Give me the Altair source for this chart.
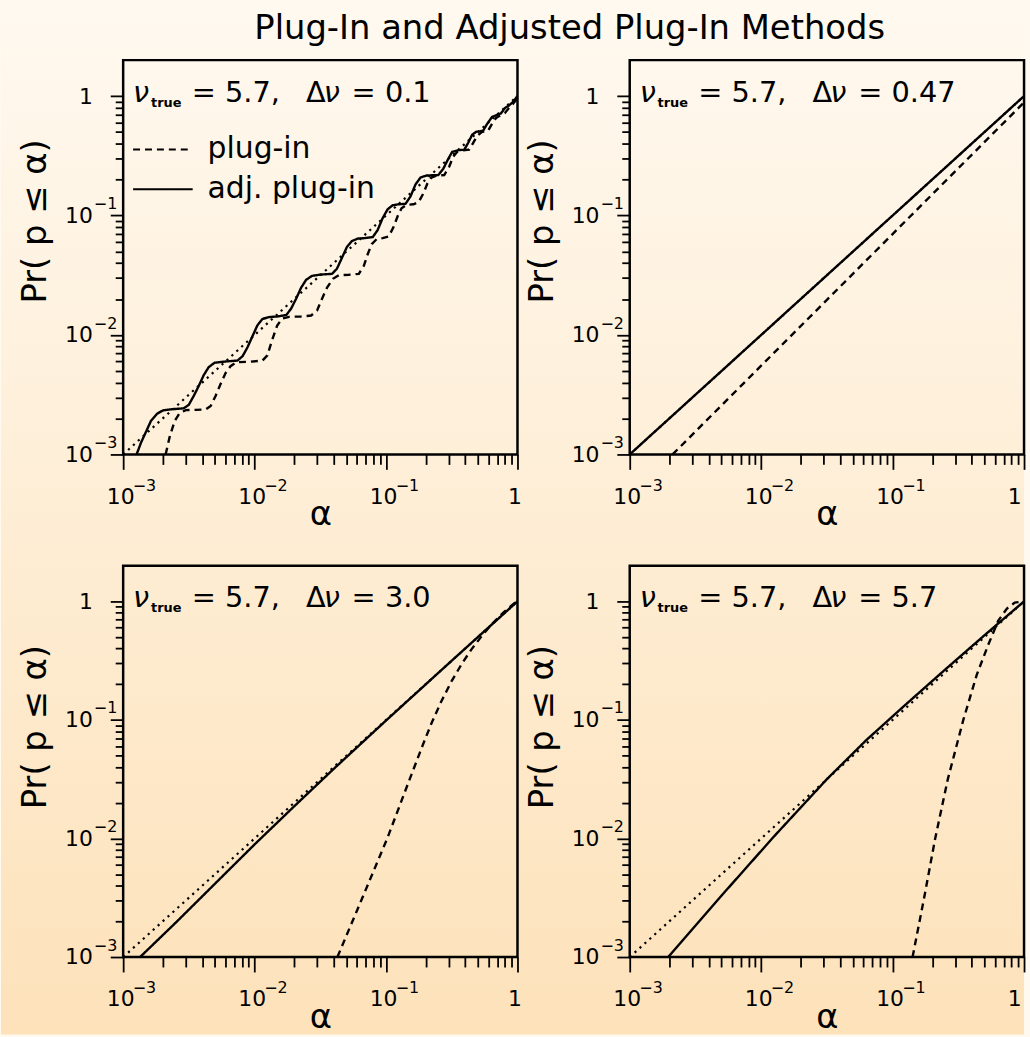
import altair as alt
import pandas as pd

FONT = "DejaVu Sans"
BG_TOP = "#FFF9F0"
BG_BOTTOM = "#FDE2BA"

TITLE = "Plug-In and Adjusted Plug-In Methods"
NU_TRUE = "5.7"
DELTA_NU = ["0.1", "0.47", "3.0", "5.7"]
METHODS = ["plug-in", "adj. plug-in"]
X_TITLE = "α"
Y_TITLE = "Pr( p ≤ α)"

MAJOR_TICKS = [0.001, 0.01, 0.1, 1]
MAJOR_BASE = ["10", "10", "10", "1"]
EXP_TICKS = [0.001, 0.01, 0.1]
EXP_LABELS = ["−3", "−2", "−1"]
MINOR_TICKS = [0.002, 0.003, 0.004, 0.005, 0.006, 0.007, 0.008, 0.009,
               0.02, 0.03, 0.04, 0.05, 0.06, 0.07, 0.08, 0.09,
               0.2, 0.3, 0.4, 0.5, 0.6, 0.7, 0.8, 0.9]

# dotted reference line Pr(p <= alpha) = alpha
DIAG_ALPHA = [0.001, 1.0]
DIAG_PROB = [0.001, 1.0]

# curves as log10(alpha), log10(Pr)
P1_ADJ_LA = [-2.898, -2.864, -2.826, -2.788, -2.743, -2.697, -2.622, -2.539, -2.501, -2.463,
             -2.425, -2.387, -2.349, -2.304, -2.221, -2.130, -2.092, -2.054, -2.017, -1.979,
             -1.941, -1.888, -1.828, -1.759, -1.722, -1.684, -1.646, -1.608, -1.563, -1.495,
             -1.411, -1.374, -1.336, -1.298, -1.260, -1.215, -1.162, -1.101, -1.064, -1.026,
             -0.988, -0.950, -0.905, -0.852, -0.814, -0.776, -0.738, -0.693, -0.602, -0.564,
             -0.526, -0.496, -0.451, -0.405, -0.375, -0.345, -0.315, -0.262, -0.231, -0.194,
             -0.156, -0.126, -0.095, -0.065, -0.035, 0.0]
P1_ADJ_LP = [-3.0, -2.901, -2.810, -2.718, -2.660, -2.631, -2.621, -2.614, -2.585, -2.510,
             -2.427, -2.336, -2.269, -2.232, -2.222, -2.214, -2.178, -2.103, -2.012, -1.920,
             -1.866, -1.850, -1.845, -1.833, -1.779, -1.696, -1.604, -1.538, -1.505, -1.494,
             -1.488, -1.446, -1.355, -1.264, -1.214, -1.193, -1.189, -1.180, -1.122, -1.022,
             -0.948, -0.914, -0.906, -0.902, -0.840, -0.740, -0.682, -0.665, -0.661, -0.607,
             -0.524, -0.466, -0.453, -0.449, -0.391, -0.324, -0.299, -0.291, -0.233, -0.175,
             -0.158, -0.145, -0.100, -0.079, -0.050, 0.0]
P1_PLUG_LA = [-2.677, -2.644, -2.607, -2.569, -2.523, -2.448, -2.372, -2.334, -2.297, -2.259,
              -2.221, -2.183, -2.138, -2.039, -1.941, -1.903, -1.865, -1.828, -1.790, -1.737,
              -1.646, -1.570, -1.525, -1.487, -1.449, -1.404, -1.359, -1.283, -1.207, -1.169,
              -1.139, -1.109, -1.071, -1.026, -0.980, -0.943, -0.912, -0.882, -0.844, -0.791,
              -0.753, -0.716, -0.685, -0.655, -0.617, -0.557, -0.519, -0.489, -0.458, -0.413,
              -0.368, -0.337, -0.307, -0.269, -0.224, -0.194, -0.163, -0.126, -0.095, -0.065,
              -0.035, 0.0]
P1_PLUG_LP = [-3.0, -2.843, -2.718, -2.652, -2.629, -2.627, -2.623, -2.594, -2.510, -2.411,
              -2.319, -2.261, -2.228, -2.224, -2.215, -2.170, -2.037, -1.920, -1.862, -1.848,
              -1.845, -1.837, -1.796, -1.696, -1.604, -1.530, -1.500, -1.496, -1.488, -1.421,
              -1.322, -1.239, -1.197, -1.189, -1.176, -1.097, -1.006, -0.939, -0.910, -0.906,
              -0.889, -0.815, -0.731, -0.682, -0.665, -0.661, -0.590, -0.507, -0.466, -0.453,
              -0.449, -0.391, -0.333, -0.299, -0.291, -0.233, -0.183, -0.158, -0.141, -0.100,
              -0.067, -0.017]

P2_ADJ_LA = [-3.0, -2.0, -1.0, 0.0]
P2_ADJ_LP = [-3.0, -2.0, -1.0, 0.0]
P2_PLUG_LA = [-2.674, -2.0, -1.5, -1.0, -0.5, 0.0]
P2_PLUG_LP = [-3.0, -2.257, -1.706, -1.155, -0.604, -0.053]

P3_ADJ_LA = [-2.871, -2.6, -2.3, -2.0, -1.7, -1.4, -1.0, -0.5, 0.0]
P3_ADJ_LP = [-3.0, -2.71, -2.38, -2.05, -1.73, -1.415, -1.005, -0.5, 0.0]
P3_PLUG_LA = [-1.370, -1.18, -0.991, -0.82, -0.72, -0.651, -0.58, -0.5, -0.42, -0.35,
              -0.27, -0.197, -0.108, -0.02, 0.0]
P3_PLUG_LP = [-3.0, -2.5, -2.0, -1.5, -1.21, -1.02, -0.845, -0.67, -0.52, -0.405,
              -0.29, -0.193, -0.095, -0.011, 0.0]

P4_ADJ_LA = [-2.707, -2.3, -1.9, -1.5, -1.2, -0.9, -0.6, -0.3, 0.0]
P4_ADJ_LP = [-3.0, -2.48, -1.98, -1.5, -1.17, -0.87, -0.575, -0.285, 0.0]
P4_PLUG_LA = [-0.848, -0.76, -0.676, -0.58, -0.462, -0.36, -0.27, -0.197, -0.13, -0.07, 0.0]
P4_PLUG_LP = [-3.0, -2.5, -2.0, -1.5, -1.0, -0.62, -0.36, -0.165, -0.06, -0.01, 0.0]

PANELS = [
    ((P1_ADJ_LA, P1_ADJ_LP), (P1_PLUG_LA, P1_PLUG_LP)),
    ((P2_ADJ_LA, P2_ADJ_LP), (P2_PLUG_LA, P2_PLUG_LP)),
    ((P3_ADJ_LA, P3_ADJ_LP), (P3_PLUG_LA, P3_PLUG_LP)),
    ((P4_ADJ_LA, P4_ADJ_LP), (P4_PLUG_LA, P4_PLUG_LP)),
]

# ---------------------------------------------------------------------------
W = 397
HEIGHTS = [397, 397, 394, 394]
one = pd.DataFrame({"k": [0]})
diag_df = pd.DataFrame({"alpha": DIAG_ALPHA, "prob": DIAG_PROB})


def curves_df(adj, plug):
    rows = []
    for name, (la, lp) in ((METHODS[0], plug), (METHODS[1], adj)):
        for i, (a, p) in enumerate(zip(la, lp)):
            rows.append({"alpha": 10 ** a, "prob": 10 ** p, "method": name, "i": i})
    return pd.DataFrame(rows)


def lookup_expr(values, labels):
    return "".join(f"datum.value == {v!r} ? '{l}' : " for v, l in zip(values, labels)) + "''"


ALL_TICKS = sorted(MAJOR_TICKS + MINOR_TICKS)
major_test = "indexof([" + ",".join(repr(v) for v in MAJOR_TICKS) + "], datum.value) >= 0"
base_expr = lookup_expr(MAJOR_TICKS, MAJOR_BASE)
exp_expr = lookup_expr(EXP_TICKS, EXP_LABELS)

X_SCALE = alt.Scale(type="log", domain=[0.001, 1], nice=False)
Y_SCALE = alt.Scale(type="log", domain=[0.001, 2], nice=False)

common = dict(domain=False, grid=False, labelFont=FONT, labelColor="black",
              labelFlush=False, labelOverlap=False, zindex=1)


def x_axis(right_col):
    align = ({"condition": {"test": "datum.value == 1", "value": "right"}, "value": "center"}
             if right_col else "center")
    return alt.Axis(
        orient="bottom", values=ALL_TICKS, labelExpr=base_expr,
        tickSize={"condition": {"test": major_test, "value": 15}, "value": 10},
        tickWidth=1.8, tickColor="black",
        labelFontSize=22, labelAlign=align, labelBaseline="top", labelPadding=17,
        labelOffset=-3,
        title=X_TITLE, titleFont=FONT, titleFontSize=34, titleFontWeight="normal",
        titleColor="black", titleY=61, titleBaseline="middle", **common,
    )


x_axis_exp = alt.Axis(
    orient="bottom", values=EXP_TICKS, labelExpr=exp_expr, ticks=False, tickSize=0,
    labelFontSize=16, labelAlign="center", labelBaseline="top", labelPadding=23,
    labelOffset=21, title=None, **common,
)
y_axis = alt.Axis(
    orient="left", values=ALL_TICKS, labelExpr=base_expr,
    tickSize={"condition": {"test": major_test, "value": 13}, "value": 8},
    tickWidth=1.8, tickColor="black",
    labelFontSize=22, labelAlign="right", labelBaseline="middle", labelPadding=18,
    title=Y_TITLE, titleFont=FONT, titleFontSize=34, titleFontWeight="normal",
    titleColor="black", titleAngle=270, titleX=-88, titleY=162,
    titleAlign="center", titleBaseline="middle", **common,
)
y_axis_exp = alt.Axis(
    orient="left", values=EXP_TICKS, labelExpr=exp_expr, ticks=False, tickSize=0,
    labelFontSize=16, labelAlign="left", labelBaseline="middle", labelPadding=30,
    labelOffset=-12, title=None, **common,
)

bg = alt.Chart(one).mark_rect(
    fill=alt.Gradient(
        gradient="linear",
        stops=[alt.GradientStop(color=BG_TOP, offset=0), alt.GradientStop(color=BG_BOTTOM, offset=1)],
        x1=0, x2=0, y1=0, y2=1,
    )
).encode(x=alt.value(-123), x2=alt.value(907), y=alt.value(-56), y2=alt.value(981))

frame = alt.Chart(one).mark_rect(fill="transparent", stroke="black", strokeWidth=2.5).encode(
    x=alt.value(0), x2=alt.value("width"), y=alt.value(0), y2=alt.value("height")
)


def text_layer(text, x, y, size, style="normal", weight="normal", align="left"):
    return alt.Chart(one).mark_text(
        text=text, align=align, baseline="alphabetic", font=FONT, fontSize=size,
        fontStyle=style, fontWeight=weight, color="black",
    ).encode(x=alt.value(x), y=alt.value(y))


def panel(k):
    adj, plug = PANELS[k]
    df = curves_df(adj, plug)
    if k == 0:
        legend = alt.Legend(
            orient="none", legendX=25, legendY=75, title=None,
            symbolType="M-6,0H6", symbolSize=100, symbolStrokeWidth=2.2,
            symbolStrokeColor="black", labelFont=FONT, labelFontSize=30,
            labelColor="black", labelOffset=30, labelLimit=0, rowPadding=10,
            padding=0, zindex=1,
        )
    else:
        legend = None
    diag = alt.Chart(diag_df).mark_line(color="black", strokeWidth=2.2, strokeDash=[2.2, 4.5]).encode(
        x=alt.X("alpha:Q", scale=X_SCALE, axis=x_axis_exp),
        y=alt.Y("prob:Q", scale=Y_SCALE, axis=y_axis_exp),
    )
    lines = alt.Chart(df).mark_line(color="black", strokeWidth=2.4).encode(
        x=alt.X("alpha:Q", scale=X_SCALE, axis=x_axis(k % 2 == 1)),
        y=alt.Y("prob:Q", scale=Y_SCALE, axis=y_axis),
        strokeDash=alt.StrokeDash(
            "method:N",
            scale=alt.Scale(domain=METHODS, range=[[7, 5], [1, 0]]),
            legend=legend,
        ),
        order="i:Q",
    )
    texts = [
        text_layer("ν", 10, 42, 29, style="italic"),
        text_layer("true", 28, 47, 13, weight="bold"),
        text_layer("= " + NU_TRUE + ",", 69, 42, 29),
        text_layer("Δ", 184, 42, 29),
        text_layer("ν", 202, 42, 29, style="italic"),
        text_layer("= " + DELTA_NU[k], 230, 42, 29),
    ]
    if k == 0:
        texts.append(text_layer(TITLE, 449.5, -21, 34, align="center"))
    layers = ([bg] if k == 0 else []) + [frame, diag, lines] + texts
    return alt.layer(*layers).resolve_axis(x="independent", y="independent").properties(
        width=W, height=HEIGHTS[k]
    )


chart = alt.concat(
    *[panel(k) for k in range(4)],
    columns=2,
    spacing={"row": 112, "column": 113},
    bounds="flush",
).resolve_scale(strokeDash="independent").properties(
    padding=0,
    background=BG_TOP,
    autosize=alt.AutoSizeParams(type="pad"),
).configure_view(stroke="transparent")

chart.save("out.html", embed_options={"renderer": "svg", "actions": False})
